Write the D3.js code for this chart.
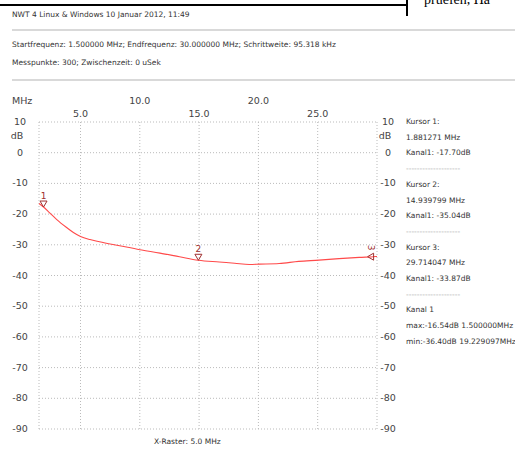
<!DOCTYPE html>
<html>
<head>
  <meta charset="utf-8">
  <title>NWT 4 Messung</title>
  <script src="https://d3js.org/d3.v7.min.js"></script>
  <style>
    body { margin: 0; background: #fff; }
    text { font-family: "DejaVu Sans", sans-serif; fill: #333; }
    .info { font-size: 7.5px; }
    .axis { font-size: 9.5px; fill: #444; }
    .grid { stroke: #bbb; stroke-width: 1; stroke-dasharray: 1,2; }
  </style>
</head>
<body>
<div id="chart"></div>
<script>
  var freq = [1.5, 1.88, 2.4, 3.0, 3.8, 4.4, 5.0, 5.8, 6.6, 8.3, 10.0, 11.7, 13.35, 14.94, 16.7, 18.0, 19.23, 20.1, 21.75, 23.4, 25.1, 26.8, 28.5, 29.71, 30.0];
  var level = [-16.54, -17.7, -19.6, -21.8, -24.3, -26.0, -27.3, -28.3, -29.0, -30.3, -31.6, -32.7, -33.9, -35.04, -35.6, -36.0, -36.40, -36.3, -36.1, -35.4, -35.0, -34.5, -34.1, -33.87, -33.8];

  var xTicks = [5, 10, 15, 20, 25];
  var yTicks = [10, 0, -10, -20, -30, -40, -50, -60, -70, -80, -90];

  var cursorNr = ["1", "2", "3"];
  var cursorFreq = [1.881271, 14.939799, 29.714047];
  var cursorLevel = [-17.70, -35.04, -33.87];

  var headerLines = ["NWT 4 Linux & Windows  10 Januar 2012, 11:49"];
  var paramLines = [
    "Startfrequenz: 1.500000 MHz; Endfrequenz: 30.000000 MHz; Schrittweite: 95.318 kHz",
    "Messpunkte:  300; Zwischenzeit:    0 uSek"
  ];
  var kanalLines = ["Kanal 1", "max:-16.54dB 1.500000MHz", "min:-36.40dB 19.229097MHz"];

  var width = 515, height = 451;

  var svg = d3.select("#chart").append("svg")
    .attr("width", width).attr("height", height);

  //seitenrand oben (abgeschnittenes dokument)
  svg.append("line").attr("x1", 0).attr("x2", 407).attr("y1", 5).attr("y2", 5)
    .attr("stroke", "#000").attr("stroke-width", 2);
  svg.append("line").attr("x1", 407).attr("x2", 407).attr("y1", 0).attr("y2", 16)
    .attr("stroke", "#000").attr("stroke-width", 2);
  svg.append("text").attr("x", 424).attr("y", 4)
    .style("font-family", "Liberation Serif, serif").style("font-size", "14px").style("fill", "#000")
    .text("pruefen, Ha");

  //kopf
  svg.append("text").attr("class", "info").attr("x", 12).attr("y", 17).text(headerLines[0]);
  svg.append("line").attr("x1", 12).attr("x2", width).attr("y1", 30).attr("y2", 30)
    .attr("stroke", "#ccc").attr("stroke-width", 1.5);
  svg.selectAll(".param").data(paramLines).enter().append("text")
    .attr("class", "info param").attr("x", 12)
    .attr("y", function(d, i) { return 47 + i * 18; })
    .text(function(d) { return d; });
  svg.append("line").attr("x1", 12).attr("x2", width).attr("y1", 80).attr("y2", 80)
    .attr("stroke", "#ccc").attr("stroke-width", 1.5);

  var x = d3.scaleLinear().domain([1.5, 30]).range([39, 377]);
  var y = d3.scaleLinear().domain([-90, 10]).range([429, 122]);

  //raster
  svg.selectAll(".vgrid").data([1.5].concat(xTicks).concat([30])).enter().append("line")
    .attr("class", "grid")
    .attr("x1", x).attr("x2", x).attr("y1", y(10)).attr("y2", y(-90));
  svg.selectAll(".hgrid").data(yTicks).enter().append("line")
    .attr("class", "grid")
    .attr("x1", x(1.5)).attr("x2", x(30)).attr("y1", y).attr("y2", y);

  //x beschriftung, zwei zeilen
  svg.selectAll(".xlab").data(xTicks).enter().append("text")
    .attr("class", "axis").attr("text-anchor", "middle")
    .attr("x", x)
    .attr("y", function(d, i) { return i % 2 ? 104 : 117; })
    .text(function(d) { return d.toFixed(1); });
  svg.append("text").attr("class", "axis").attr("x", 12).attr("y", 104).text("MHz");

  //y beschriftung links und rechts
  [20, 388].forEach(function(px) {
    svg.selectAll(null).data(yTicks).enter().append("text")
      .attr("class", "axis").attr("text-anchor", "middle")
      .attr("x", px).attr("y", function(d) { return y(d) + 3; })
      .text(function(d) { return d; });
    svg.append("text").attr("class", "axis").attr("text-anchor", "middle")
      .attr("x", px - 3).attr("y", y(5) + 2).text("dB");
  });

  //messkurve
  var line = d3.line()
    .curve(d3.curveMonotoneX)
    .x(function(d) { return x(d[0]); })
    .y(function(d) { return y(d[1]); });
  svg.append("path")
    .datum(d3.zip(freq, level))
    .attr("d", line)
    .attr("fill", "none").attr("stroke", "#ff4a4a").attr("stroke-width", 1.1);

  //kursor marken (3 liegt am rand, deshalb seitlich)
  var mark = svg.selectAll(".mark").data(cursorNr).enter().append("g")
    .attr("class", "mark")
    .attr("transform", function(d, i) {
      return "translate(" + x(cursorFreq[i]) + "," + y(cursorLevel[i]) + ")";
    });
  mark.append("path")
    .attr("d", function(d, i) { return i === 2 ? "M-6,0L0,-3.5L0,3.5Z" : "M0,0L-3.5,-6L3.5,-6Z"; })
    .attr("fill", "none").attr("stroke", "#a03030").attr("stroke-width", 1);
  mark.append("text").attr("text-anchor", "middle")
    .attr("transform", function(d, i) { return i === 2 ? "translate(-2,-9)rotate(90)" : "translate(0,-8)"; })
    .attr("dy", function(d, i) { return i === 2 ? "0.35em" : 0; })
    .style("font-size", "9px").style("fill", "#a03030")
    .text(function(d) { return d; });

  //kursor info rechts
  var info = [];
  cursorNr.forEach(function(n, i) {
    info.push("Kursor " + n + ":");
    info.push(cursorFreq[i].toFixed(6) + " MHz");
    info.push("Kanal1: " + cursorLevel[i].toFixed(2) + "dB");
    info.push("--------------------");
  });
  info = info.concat(kanalLines);
  svg.selectAll(".side").data(info).enter().append("text")
    .attr("class", "info side").attr("x", 406)
    .attr("y", function(d, i) { return 124 + i * 15.7; })
    .style("fill", function(d) { return d[0] === "-" ? "#aaa" : "#333"; })
    .text(function(d) { return d; });

  svg.append("text").attr("class", "info").attr("x", 154).attr("y", 444).text("X-Raster: 5.0 MHz");
</script>
</body>
</html>
